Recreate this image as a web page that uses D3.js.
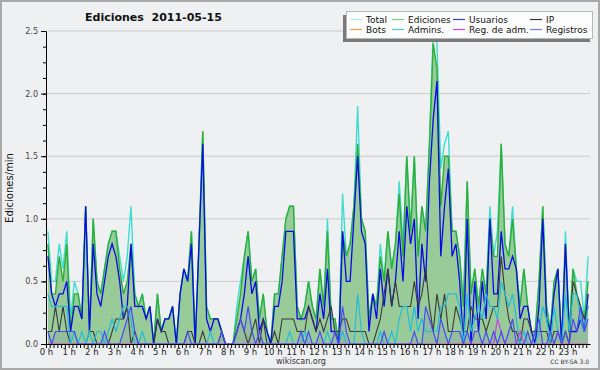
<!DOCTYPE html>
<html>
<head>
<meta charset="utf-8">
<script src="https://cdn.jsdelivr.net/npm/d3@7"></script>
<style>
  body { margin: 0; background: #eff0f2; }
  svg { display: block; }
  text { font-family: "DejaVu Sans", sans-serif; }
</style>
</head>
<body>
<div id="chart"></div>
<script>
// edits per minute, one value every 10 minutes (6 per hour)
const total = [
  0.9,0.5,0.5,0.8,0.6,0.9, 0.2,0.5,0.4,0.2,1.1,0.1, 1.0,0.5,0.4,0.6,0.8,0.9, 0.9,0.7,0.5,0.7,1.1,0.4,
  0.3,0.4,0.2,0.3,0.0,0.4, 0.1,0.2,0.2,0.3,0.0,0.4, 0.6,0.5,0.9,0.0,0.8,1.7, 0.3,0.2,0.2,0.2,0.1,0.0,
  0.0,0.0,0.3,0.5,0.7,0.9, 0.5,0.6,0.2,0.4,0.1,0.0, 0.4,0.4,0.7,1.0,1.1,1.1, 0.3,0.2,0.3,0.5,0.3,0.2,
  0.6,0.3,1.0,0.2,0.2,0.0, 1.2,0.7,0.8,1.1,1.9,1.0, 0.9,0.2,0.4,0.3,0.8,0.5, 0.9,0.6,0.8,1.3,0.8,1.5,
  0.9,1.5,0.7,1.1,0.9,1.6, 2.5,2.4,1.4,1.6,1.7,0.9, 0.9,0.7,0.3,1.3,0.4,0.6, 0.3,0.6,0.4,1.1,0.7,0.9,
  1.6,0.8,0.7,1.1,0.6,0.3, 0.6,0.3,0.1,0.1,0.5,1.1, 0.3,0.1,0.5,0.6,0.0,0.9, 0.1,0.6,0.5,0.5,0.2,0.7
];
const ediciones = [
  0.8,0.4,0.4,0.7,0.5,0.8, 0.1,0.4,0.4,0.2,1.1,0.1, 1.0,0.5,0.4,0.6,0.8,0.9, 0.9,0.6,0.4,0.5,0.8,0.4,
  0.3,0.4,0.2,0.3,0.0,0.4, 0.1,0.2,0.2,0.3,0.0,0.4, 0.6,0.5,0.9,0.0,0.8,1.7, 0.3,0.2,0.2,0.2,0.1,0.0,
  0.0,0.0,0.2,0.4,0.7,0.9, 0.5,0.6,0.2,0.4,0.1,0.0, 0.4,0.4,0.7,1.0,1.1,1.1, 0.3,0.2,0.3,0.5,0.3,0.2,
  0.6,0.3,0.9,0.2,0.2,0.0, 0.9,0.7,0.8,1.1,1.6,1.0, 0.9,0.2,0.4,0.3,0.7,0.5, 0.9,0.6,0.8,1.2,0.7,1.5,
  0.9,1.5,0.7,1.1,0.9,1.6, 2.4,2.2,1.1,1.5,1.5,0.9, 0.9,0.7,0.3,1.3,0.4,0.6, 0.3,0.6,0.4,1.0,0.7,0.7,
  1.6,0.8,0.7,1.0,0.6,0.3, 0.6,0.3,0.1,0.1,0.5,1.1, 0.3,0.1,0.5,0.6,0.0,0.8, 0.1,0.6,0.4,0.3,0.2,0.5
];
const usuarios = [
  0.7,0.4,0.3,0.4,0.4,0.5, 0.1,0.3,0.3,0.2,1.1,0.1, 0.8,0.4,0.3,0.5,0.7,0.8, 0.7,0.5,0.2,0.3,0.8,0.3,
  0.3,0.3,0.2,0.3,0.0,0.2, 0.1,0.2,0.2,0.3,0.0,0.4, 0.6,0.5,0.8,0.0,0.8,1.6, 0.2,0.1,0.2,0.2,0.1,0.0,
  0.0,0.0,0.1,0.2,0.4,0.7, 0.4,0.5,0.1,0.2,0.1,0.0, 0.3,0.3,0.5,0.9,0.9,0.9, 0.2,0.2,0.2,0.3,0.2,0.1,
  0.4,0.2,0.6,0.1,0.1,0.0, 0.9,0.5,0.5,1.0,1.5,0.9, 0.8,0.1,0.4,0.2,0.6,0.3, 0.6,0.3,0.5,0.9,0.5,1.1,
  0.8,1.0,0.2,0.8,0.5,1.3, 1.8,2.1,0.7,1.1,1.4,0.7, 0.8,0.5,0.0,1.0,0.0,0.5, 0.1,0.5,0.2,1.0,0.4,0.4,
  0.9,0.6,0.6,0.7,0.6,0.2, 0.3,0.3,0.1,0.0,0.3,1.0, 0.2,0.1,0.4,0.6,0.0,0.8, 0.1,0.1,0.1,0.2,0.1,0.4
];
const ip = [
  0.1,0.1,0.3,0.1,0.3,0.1, 0.0,0.0,0.0,0.0,0.0,0.1, 0.1,0.0,0.0,0.0,0.0,0.1, 0.2,0.2,0.2,0.3,0.0,0.1,
  0.0,0.0,0.0,0.0,0.0,0.2, 0.1,0.1,0.0,0.0,0.0,0.0, 0.0,0.1,0.1,0.0,0.0,0.1, 0.0,0.0,0.0,0.0,0.1,0.0,
  0.0,0.0,0.1,0.2,0.1,0.0, 0.1,0.2,0.0,0.2,0.0,0.0, 0.1,0.0,0.2,0.2,0.2,0.2, 0.1,0.1,0.1,0.3,0.2,0.1,
  0.2,0.1,0.2,0.3,0.1,0.1, 0.2,0.2,0.1,0.1,0.1,0.1, 0.1,0.0,0.0,0.1,0.2,0.4, 0.6,0.3,0.5,0.3,0.3,0.3,
  0.3,0.5,0.3,0.4,0.6,0.3, 0.1,0.4,0.2,0.4,0.1,0.1, 0.3,0.2,0.1,0.1,0.3,0.2, 0.2,0.2,0.1,0.2,0.3,0.3,
  0.7,0.4,0.2,0.1,0.1,0.0, 0.2,0.2,0.1,0.1,0.1,0.1, 0.1,0.0,0.1,0.1,0.0,0.1, 0.0,0.5,0.4,0.3,0.2,0.3
];
const bots = [
  0,0,0,0,0,0, 0,0,0,0,0,0, 0,0,0,0,0,0, 0,0,0,0,0,0, 0,0,0,0,0,0, 0,0,0,0,0,0,
  0,0,0,0,0,0, 0,0,0,0,0,0, 0,0,0,0,0,0, 0,0,0,0,0,0, 0,0,0,0,0,0, 0,0,0,0,0,0,
  0,0,0,0,0,0, 0,0,0,0,0,0, 0,0,0,0,0,0, 0,0,0,0,0,0, 0,0,0,0,0,0, 0,0,0,0,0,0,
  0,0,0,0,0,0, 0,0,0,0,0,0, 0,0,0,0,0,0, 0,0,0,0,0,0, 0,0,0,0,0,0, 0,0,0,0,0,0
];
const admins = [
  0.4,0.3,0.3,0.3,0.3,0.3, 0.0,0.1,0.0,0.1,0.0,0.1, 0.0,0.1,0.1,0.0,0.1,0.2, 0.1,0.2,0.3,0.3,0.2,0.0,
  0.0,0.1,0.0,0.0,0.0,0.0, 0.0,0.0,0.0,0.0,0.0,0.0, 0.0,0.0,0.0,0.0,0.0,0.0, 0.0,0.1,0.0,0.0,0.0,0.0,
  0.0,0.0,0.0,0.0,0.0,0.0, 0.0,0.0,0.0,0.0,0.0,0.0, 0.0,0.0,0.0,0.0,0.1,0.0, 0.0,0.0,0.1,0.0,0.0,0.0,
  0.0,0.0,0.1,0.0,0.0,0.0, 0.1,0.0,0.0,0.0,0.4,0.1, 0.0,0.0,0.0,0.0,0.1,0.0, 0.0,0.1,0.0,0.2,0.3,0.3,
  0.1,0.3,0.1,0.2,0.1,0.1, 0.1,0.1,0.3,0.3,0.4,0.4, 0.4,0.3,0.0,0.4,0.1,0.2, 0.3,0.2,0.4,0.3,0.3,0.2,
  0.5,0.4,0.3,0.4,0.2,0.0, 0.1,0.0,0.0,0.0,0.1,0.3, 0.2,0.0,0.3,0.1,0.0,0.4, 0.1,0.4,0.4,0.2,0.1,0.3
];
const regAdm = [
  0,0,0,0,0,0, 0,0,0,0,0,0, 0,0,0,0,0,0, 0,0,0,0,0,0, 0,0,0,0,0,0, 0,0,0,0,0,0,
  0,0,0,0,0,0, 0,0,0,0,0,0, 0,0,0,0,0,0, 0,0,0,0,0,0, 0,0,0,0,0,0, 0,0,0,0,0,0,
  0,0,0,0,0,0, 0,0,0,0,0,0, 0,0,0,0,0,0, 0,0,0,0,0,0, 0,0,0,0,0,0, 0,0,0,0,0,0,
  0,0,0,0,0,0, 0,0,0,0,0,0.2, 0.1,0,0,0,0,0.1, 0,0,0,0,0,0, 0,0,0,0.1,0,0, 0,0,0,0,0,0
];
const registros = [
  0.1,0.0,0.1,0.1,0.1,0.1, 0.1,0.1,0.0,0.0,0.0,0.0, 0.0,0.0,0.0,0.1,0.0,0.0, 0.0,0.0,0.1,0.2,0.3,0.1,
  0.0,0.0,0.0,0.0,0.0,0.0, 0.0,0.0,0.0,0.0,0.0,0.0, 0.0,0.1,0.0,0.0,0.0,0.0, 0.0,0.0,0.0,0.0,0.1,0.0,
  0.0,0.0,0.1,0.2,0.1,0.3, 0.1,0.0,0.1,0.0,0.0,0.0, 0.0,0.0,0.0,0.0,0.0,0.0, 0.0,0.1,0.0,0.1,0.0,0.0,
  0.1,0.0,0.0,0.0,0.1,0.0, 0.3,0.1,0.0,0.0,0.0,0.0, 0.0,0.0,0.0,0.0,0.0,0.1, 0.0,0.0,0.0,0.0,0.0,0.0,
  0.0,0.1,0.0,0.0,0.3,0.2, 0.1,0.0,0.2,0.1,0.0,0.1, 0.1,0.1,0.0,0.1,0.0,0.1, 0.1,0.0,0.1,0.0,0.1,0.0,
  0.1,0.0,0.1,0.2,0.0,0.0, 0.0,0.1,0.0,0.1,0.2,0.0, 0.0,0.1,0.0,0.1,0.0,0.1, 0.0,0.2,0.1,0.3,0.1,0.2
];
const hourLabels = ['0 h','1 h','2 h','3 h','4 h','5 h','6 h','7 h','8 h','9 h','10 h','11 h',
  '12 h','13 h','14 h','15 h','16 h','17 h','18 h','19 h','20 h','21 h','22 h','23 h'];
const yTicks = [0, 0.5, 1.0, 1.5, 2.0, 2.5];

class EditsChart {

  constructor(_config) {
    this.config = {
      parentElement: _config.parentElement,
      containerWidth: 600,
      containerHeight: 370,
      plotLeft: 46,
      plotRight: 590,
      plotTop: 31,
      plotBottom: 344
    }
    // draw order: back to front
    this.series = [
      { key: 'Total',         values: total,     color: '#3fdcd2', width: 1.4 },
      { key: 'Ediciones',     values: ediciones, color: '#2fae35', width: 1.4, fill: '#99cb99' },
      { key: 'Usuarios',      values: usuarios,  color: '#0a0ae6', width: 1.3 },
      { key: 'IP',            values: ip,        color: '#3a3a3a', width: 1.1 },
      { key: 'Bots',          values: bots,      color: '#f0a040', width: 1.1 },
      { key: 'Admins.',       values: admins,    color: '#22bddb', width: 1.2 },
      { key: 'Reg. de adm.',  values: regAdm,    color: '#cc44dd', width: 1.2 },
      { key: 'Registros',     values: registros, color: '#4a4af2', width: 1.2, fill: 'rgba(110,90,200,0.12)' }
    ];
    this.legendOrder = ['Total', 'Ediciones', 'Usuarios', 'IP', 'Bots', 'Admins.', 'Reg. de adm.', 'Registros'];
    this.legendColors = {
      'Total': '#a8eee6', 'Ediciones': '#7fcf7f', 'Usuarios': '#3a3ad8', 'IP': '#333333',
      'Bots': '#f0a040', 'Admins.': '#44cce0', 'Reg. de adm.': '#cc44dd', 'Registros': '#7777ee'
    };
    this.initVis();
  }

  initVis() {
    let vis = this;
    const c = vis.config;

    vis.svg = d3.select(c.parentElement).append('svg')
        .attr('width', c.containerWidth)
        .attr('height', c.containerHeight);

    vis.svg.append('rect')
        .attr('x', 1).attr('y', 1)
        .attr('width', c.containerWidth - 2)
        .attr('height', c.containerHeight - 2)
        .attr('fill', '#eff0f2')
        .attr('stroke', '#a9a9a9')
        .attr('stroke-width', 2);

    vis.xScale = d3.scaleLinear().domain([0, 1440]).range([c.plotLeft, c.plotRight]);
    vis.yScale = d3.scaleLinear().domain([0, 2.5]).range([c.plotBottom, c.plotTop]);

    vis.chart = vis.svg.append('g');

    vis.renderVis();
  }

  renderVis() {
    let vis = this;
    const c = vis.config;
    const px = (d, i) => vis.xScale(i * 10 + 5);

    // grid
    vis.chart.append('g').selectAll('line')
        .data(yTicks.filter(d => d > 0))
      .join('line')
        .attr('x1', c.plotLeft).attr('x2', c.plotRight)
        .attr('y1', d => vis.yScale(d)).attr('y2', d => vis.yScale(d))
        .attr('stroke', '#cacaca')
        .attr('stroke-width', 1);

    const line = d3.line().x(px).y(d => vis.yScale(d));
    const area = d3.area().x(px).y0(vis.yScale(0)).y1(d => vis.yScale(d));

    // filled areas first
    vis.series.filter(s => s.fill).forEach(s => {
      vis.chart.append('path')
          .datum(s.values)
          .attr('d', area)
          .attr('fill', s.fill);
    });

    vis.chart.selectAll('.series-line')
        .data(vis.series)
      .join('path')
        .attr('class', 'series-line')
        .attr('d', s => line(s.values))
        .attr('fill', 'none')
        .attr('stroke', s => s.color)
        .attr('stroke-width', s => s.width)
        .attr('stroke-linejoin', 'miter');

    // y axis
    const yAxis = d3.axisLeft(vis.yScale)
        .tickValues(yTicks)
        .tickSize(5)
        .tickSizeOuter(0)
        .tickFormat(d3.format('.1f'));
    const yAxisG = vis.chart.append('g')
        .attr('transform', `translate(${c.plotLeft},0)`)
        .call(yAxis);
    yAxisG.selectAll('text')
        .attr('font-family', '"DejaVu Sans", sans-serif')
        .attr('font-size', 8)
        .attr('fill', '#444');

    vis.chart.append('g')
        .attr('transform', `translate(${c.plotLeft},0)`)
        .call(d3.axisLeft(vis.yScale)
          .tickValues(d3.range(0, 2.51, 0.125))
          .tickSize(3).tickSizeOuter(0).tickFormat(''))
        .select('.domain').remove();

    // x axis
    vis.chart.append('g')
        .attr('transform', `translate(0,${c.plotBottom})`)
        .call(d3.axisBottom(vis.xScale)
          .tickValues(d3.range(0, 1440, 10))
          .tickSize(4).tickSizeOuter(0).tickFormat(''));

    vis.chart.append('g')
        .attr('transform', `translate(0,${c.plotBottom})`)
        .call(d3.axisBottom(vis.xScale)
          .tickValues(hourLabels.map((d, i) => i * 60))
          .tickSize(0).tickPadding(5).tickSizeOuter(0)
          .tickFormat((d, i) => hourLabels[i]))
        .call(g => g.select('.domain').remove())
        .selectAll('text')
          .attr('font-family', '"DejaVu Sans", sans-serif')
          .attr('font-size', 8.5)
          .attr('fill', '#222');

    vis.chart.selectAll('.domain').attr('stroke', '#000');
    vis.chart.selectAll('.tick line').attr('stroke', '#000');

    // texts
    vis.svg.append('text')
        .attr('x', 85).attr('y', 21)
        .attr('font-weight', 'bold')
        .attr('font-size', 11)
        .attr('fill', '#111')
        .attr('xml:space', 'preserve')
        .text('Ediciones  2011-05-15');

    vis.svg.append('text')
        .attr('transform', 'translate(13,188) rotate(-90)')
        .attr('text-anchor', 'middle')
        .attr('font-family', '"DejaVu Sans Mono", monospace')
        .attr('font-size', 10)
        .attr('fill', '#111')
        .text('Ediciones/min');

    vis.svg.append('text')
        .attr('x', 301).attr('y', 364)
        .attr('text-anchor', 'middle')
        .attr('font-size', 8)
        .attr('fill', '#333')
        .text('wikiscan.org');

    vis.svg.append('text')
        .attr('x', 589).attr('y', 364)
        .attr('text-anchor', 'end')
        .attr('font-size', 6)
        .attr('fill', '#333')
        .text('CC BY-SA 3.0');

    // legend
    const legend = vis.svg.append('g').attr('class', 'legend');
    legend.append('rect')
        .attr('x', 343).attr('y', 15).attr('width', 247).attr('height', 27)
        .attr('fill', '#7a7a7a');
    legend.append('rect')
        .attr('x', 346.5).attr('y', 11.5).attr('width', 246).attr('height', 27)
        .attr('fill', '#fdfdfd')
        .attr('stroke', '#b8b8b8');

    const colX = [350, 392, 453, 530];
    const rowY = [19.5, 29.5];
    const items = legend.selectAll('.legend-item')
        .data(vis.legendOrder)
      .join('g')
        .attr('class', 'legend-item')
        .attr('transform', (d, i) => `translate(${colX[i % 4]},${rowY[Math.floor(i / 4)]})`);
    items.append('line')
        .attr('x1', 0).attr('x2', 12)
        .attr('stroke', d => vis.legendColors[d])
        .attr('stroke-width', 1.2);
    items.append('text')
        .attr('x', 16).attr('y', 3.3)
        .attr('font-size', 9)
        .attr('fill', '#111')
        .text(d => d);
  }
}

new EditsChart({ parentElement: '#chart' });
</script>
</body>
</html>
